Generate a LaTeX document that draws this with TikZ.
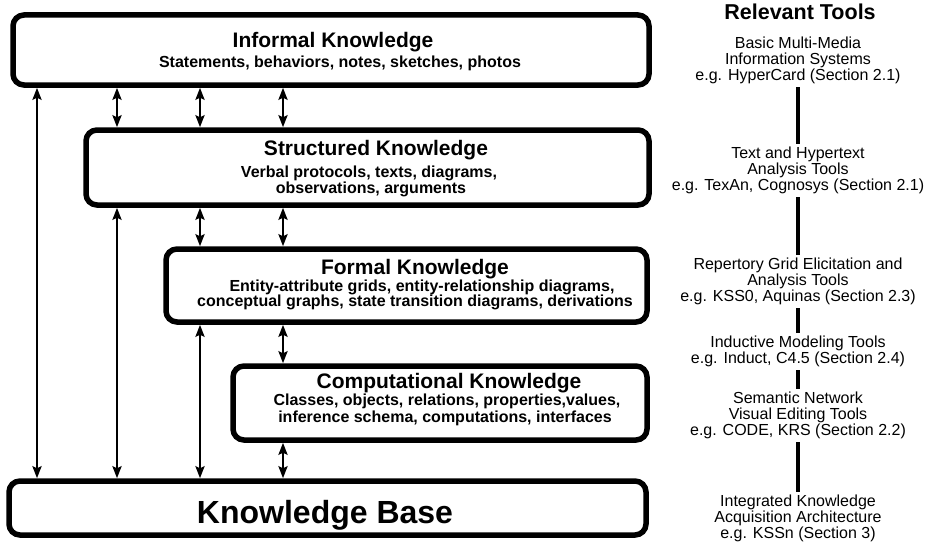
\documentclass[tikz,border=0pt]{standalone}
\usepackage{fontspec}
\setmainfont{Liberation Sans}
\usetikzlibrary{arrows.meta}
\begin{document}
\begin{tikzpicture}[x=1pt,y=-1pt,
  kbox/.style={draw=black, line width=5.5pt, rounded corners=11pt, fill=white, inner sep=0pt},
  ktitle/.style={font=\bfseries\fontsize{21}{23}\selectfont, anchor=base, inner sep=0pt},
  ksub/.style={font=\bfseries\fontsize{16}{17}\selectfont, anchor=base, inner sep=0pt},
  dar/.style={line width=2.4pt, {Stealth[length=12pt,width=9pt,inset=2pt]}-{Stealth[length=12pt,width=9pt,inset=2pt]}},
  tool/.style={font=\fontsize{16}{16}\selectfont, align=center, inner sep=0pt, anchor=north},
  toolbar/.style={line width=4pt, shorten <=3pt, shorten >=3pt}
]
\path[use as bounding box, fill=white] (0,0) rectangle (928,543);

% knowledge levels
\node[kbox, minimum width=636pt, minimum height=70pt] (inf) at (331,50) {};
\node[kbox, minimum width=563pt, minimum height=75pt] (str) at (367.5,167.5) {};
\node[kbox, minimum width=481pt, minimum height=73pt] (frm) at (406.5,285.5) {};
\node[kbox, minimum width=414pt, minimum height=74pt] (cmp) at (440,403) {};
\node[kbox, minimum width=637pt, minimum height=54pt] (kb) at (327.5,508) {};

\node[ktitle] (infT) at (333,48) {Informal Knowledge};
\node[ksub] (infS) at (340,67) {Statements, behaviors, notes, sketches, photos};

\node[ktitle] (strT) at (376,155) {Structured Knowledge};
\node[ksub] (strS1) at (369,177) {Verbal protocols, texts, diagrams,};
\node[ksub] (strS2) at (371,193) {observations, arguments};

\node[ktitle] (frmT) at (415,274) {Formal Knowledge};
\node[ksub] (frmS1) at (422,291) {Entity-attribute grids, entity-relationship diagrams,};
\node[ksub] (frmS2) at (415,306) {conceptual graphs, state transition diagrams, derivations};

\node[ktitle] (cmpT) at (449,388) {Computational Knowledge};
\node[ksub] (cmpS1) at (447,405) {Classes, objects, relations, properties,values,};
\node[ksub] (cmpS2) at (445,422) {inference schema, computations, interfaces};

\node[font=\bfseries\fontsize{32}{36}\selectfont, anchor=base, inner sep=0pt] (kbT) at (325,523) {Knowledge Base};

% arrow columns
\coordinate (c1) at (37,0);
\coordinate (c2) at (117,0);
\coordinate (c3) at (200,0);
\coordinate (c4) at (283,0);

\draw[dar] (inf.south -| c2) -- (str.north -| c2);
\draw[dar] (inf.south -| c3) -- (str.north -| c3);
\draw[dar] (inf.south -| c4) -- (str.north -| c4);
\draw[dar] (str.south -| c3) -- (frm.north -| c3);
\draw[dar] (str.south -| c4) -- (frm.north -| c4);
\draw[dar] (frm.south -| c4) -- (cmp.north -| c4);
\draw[dar] (inf.south -| c1) -- (kb.north -| c1);
\draw[dar] (str.south -| c2) -- (kb.north -| c2);
\draw[dar] (frm.south -| c3) -- (kb.north -| c3);
\draw[dar] (cmp.south -| c4) -- (kb.north -| c4);

% tools column
\node[tool, font=\bfseries\fontsize{21.5}{23}\selectfont] (tt) at (800,4) {Relevant Tools};
\node[tool] (g1) at (798,37) {Basic Multi-Media\\Information Systems\\e.g. HyperCard (Section 2.1)};
\node[tool] (g2) at (798,147) {Text and Hypertext\\Analysis Tools\\e.g. TexAn, Cognosys (Section 2.1)};
\node[tool] (g3) at (798,258) {Repertory Grid Elicitation and\\Analysis Tools\\e.g. KSS0, Aquinas (Section 2.3)};
\node[tool] (g4) at (798,336) {Inductive Modeling Tools\\e.g. Induct, C4.5 (Section 2.4)};
\node[tool] (g5) at (798,392) {Semantic Network\\Visual Editing Tools\\e.g. CODE, KRS (Section 2.2)};
\node[tool] (g6) at (798,495) {Integrated Knowledge\\Acquisition Architecture\\e.g. KSSn (Section 3)};

\draw[toolbar] (g1.south) -- (g2.north);
\draw[toolbar] (g2.south) -- (g3.north);
\draw[toolbar] (g3.south) -- (g4.north);
\draw[toolbar] (g4.south) -- (g5.north);
\draw[toolbar] (g5.south) -- (g6.north);
\end{tikzpicture}
\end{document}
